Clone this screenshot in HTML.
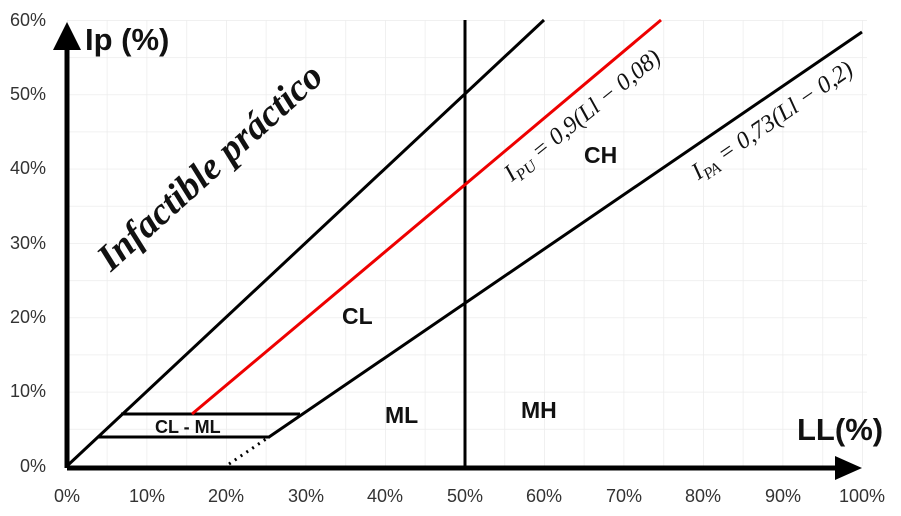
<!DOCTYPE html>
<html><head><meta charset="utf-8"><style>
html,body{margin:0;padding:0;background:#fff;}
svg{display:block;}
</style></head><body>
<svg width="901" height="516" viewBox="0 0 901 516" xmlns="http://www.w3.org/2000/svg">
<defs>
<pattern id="g" x="67" y="20" width="39.75" height="37.17" patternUnits="userSpaceOnUse">
<path d="M0 0 V37.17 M0 0 H39.75" stroke="#ececec" stroke-width="1.5" fill="none"/>
</pattern>
</defs>
<rect x="67" y="20" width="800" height="446" fill="url(#g)"/>
<g font-family="Liberation Sans, sans-serif" font-size="18" fill="#333">
<text x="46" y="26" text-anchor="end">60%</text>
<text x="46" y="100" text-anchor="end">50%</text>
<text x="46" y="174" text-anchor="end">40%</text>
<text x="46" y="249" text-anchor="end">30%</text>
<text x="46" y="323" text-anchor="end">20%</text>
<text x="46" y="397" text-anchor="end">10%</text>
<text x="46" y="472" text-anchor="end">0%</text>
<text x="67" y="502" text-anchor="middle">0%</text>
<text x="147" y="502" text-anchor="middle">10%</text>
<text x="226" y="502" text-anchor="middle">20%</text>
<text x="306" y="502" text-anchor="middle">30%</text>
<text x="385" y="502" text-anchor="middle">40%</text>
<text x="465" y="502" text-anchor="middle">50%</text>
<text x="544" y="502" text-anchor="middle">60%</text>
<text x="624" y="502" text-anchor="middle">70%</text>
<text x="703" y="502" text-anchor="middle">80%</text>
<text x="783" y="502" text-anchor="middle">90%</text>
<text x="862" y="502" text-anchor="middle">100%</text>
</g>
<g stroke="#000" stroke-width="3" fill="none">
<line x1="67" y1="466" x2="544" y2="20"/>
<line x1="269" y1="437" x2="862" y2="32"/>
<line x1="465" y1="20" x2="465" y2="466"/>
<line x1="121" y1="414" x2="300" y2="414"/>
<line x1="98" y1="437" x2="270" y2="437"/>
<line x1="229" y1="464" x2="269" y2="437" stroke-dasharray="2,5" stroke-width="3"/>
</g>
<line x1="192" y1="414" x2="661" y2="20" stroke="#e00" stroke-width="3"/>
<line x1="67" y1="468" x2="840" y2="468" stroke="#000" stroke-width="5"/>
<polygon points="835,456 862,468 835,480" fill="#000"/>
<line x1="67" y1="468" x2="67" y2="48" stroke="#000" stroke-width="5"/>
<polygon points="53,50 67,22 81,50" fill="#000"/>
<g font-family="Liberation Sans, sans-serif" font-weight="bold" fill="#111">
<text x="85" y="50" font-size="31">Ip (%)</text>
<text x="797" y="440" font-size="31">LL(%)</text>
<text x="342" y="324" font-size="23">CL</text>
<text x="385" y="423" font-size="23">ML</text>
<text x="521" y="418" font-size="23">MH</text>
<text x="584" y="163" font-size="23">CH</text>
<text x="155" y="433" font-size="18">CL - ML</text>
</g>
<g font-family="Liberation Serif, serif" font-style="italic" fill="#111">
<text x="210" y="179" font-size="38" font-weight="bold" text-anchor="middle" transform="rotate(-42 210 167)">Infactible práctico</text>
<text x="582" y="123" font-size="24" text-anchor="middle" transform="rotate(-39 582 115)">I<tspan font-size="16" dy="5">PU</tspan><tspan dy="-5"> = 0,9(Ll − 0,08)</tspan></text>
<text x="772" y="128" font-size="24" text-anchor="middle" transform="rotate(-34.5 772 120)">I<tspan font-size="16" dy="5">PA</tspan><tspan dy="-5"> = 0,73(Ll − 0,2)</tspan></text>
</g>
</svg>
</body></html>
